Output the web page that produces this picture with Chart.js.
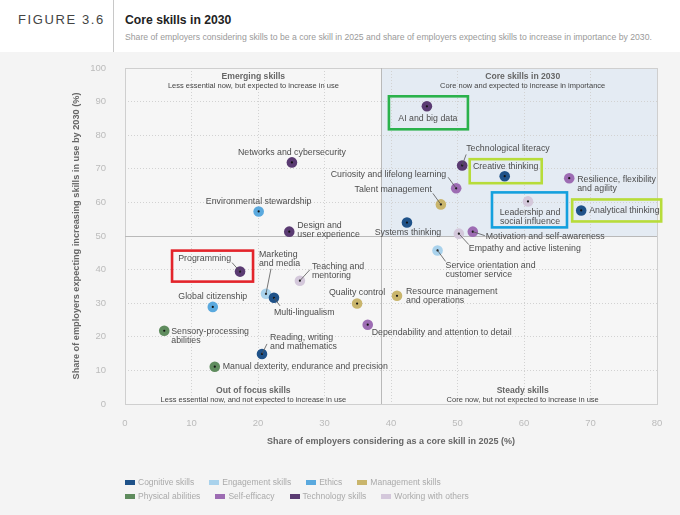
<!DOCTYPE html>
<html><head><meta charset="utf-8">
<script src="https://cdn.jsdelivr.net/npm/chart.js@4.4.0/dist/chart.umd.min.js"></script>
<style>
html,body{margin:0;padding:0;}
body{width:680px;height:515px;background:#f4f4f4;position:relative;overflow:hidden;font-family:"Liberation Sans",Arial,sans-serif;}
#hdr{position:absolute;left:0;top:0;width:680px;height:52px;background:#fff;}
#fig{position:absolute;left:18px;top:12px;font-size:13px;line-height:16px;letter-spacing:1.6px;color:#444;}
#vline{position:absolute;left:113px;top:0;width:1px;height:52px;background:#c8c8c8;}
#title{position:absolute;left:125px;top:12px;font-size:12.2px;line-height:16px;font-weight:bold;color:#222;}
#sub{position:absolute;left:125px;top:31px;font-size:8.66px;line-height:12px;color:#9a9a9a;white-space:nowrap;}
canvas{position:absolute;left:0;top:0;}
#legend{position:absolute;left:125px;top:475px;font-size:8.5px;color:#aaa;}
.row{display:flex;height:14px;align-items:center;}
.item{display:flex;align-items:center;margin-right:15px;white-space:nowrap;}
.sw{width:10px;height:5px;margin-right:3px;}
</style>
</head><body>
<div id="hdr"></div>
<div id="fig">FIGURE 3.6</div>
<div id="vline"></div>
<div id="title">Core skills in 2030</div>
<div id="sub">Share of employers considering skills to be a core skill in 2025 and share of employers expecting skills to increase in importance by 2030.</div>
<canvas id="c" width="680" height="515"></canvas>
<div id="legend"></div>
<script>
const groups = ['Cognitive skills','Engagement skills','Ethics','Management skills','Physical abilities','Self-efficacy','Technology skills','Working with others'];
const groupColors = ['#1f5289','#a9d2ec','#5aa9de','#c9b56c','#5f8c5e','#9d6cb3','#5a3b72','#d4c8db'];
const legendRows = [[0,1,2,3],[4,5,6,7]];

const skills = [
 'AI and big data','Networks and cybersecurity','Technological literacy','Design and user experience','Programming',
 'Environmental stewardship','Global citizenship',
 'Creative thinking','Analytical thinking','Systems thinking','Multi-lingualism','Reading, writing and mathematics',
 'Curiosity and lifelong learning','Resilience, flexibility and agility','Motivation and self-awareness','Dependability and attention to detail',
 'Talent management','Quality control','Resource management and operations',
 'Leadership and social influence','Empathy and active listening','Teaching and mentoring',
 'Service orientation and customer service','Marketing and media',
 'Sensory-processing abilities','Manual dexterity, endurance and precision'
];
const coreShare2025 = [45.4,25.1,50.7,24.7,17.3, 20.1,13.2, 57.1,68.6,42.4,22.4,20.6, 49.8,66.8,52.3,36.5, 47.5,34.9,40.9, 60.6,50.2,26.3, 47.0,21.2, 5.9,13.5];
const increaseShare2030 = [88.6,71.9,71.0,51.3,39.4, 57.3,28.9, 67.8,57.6,54.0,31.6,14.9, 64.2,67.2,51.3,23.6, 59.4,29.9,32.2, 60.3,50.7,36.7, 45.7,32.8, 21.8,11.1];
const skillGroup = ['Technology skills','Technology skills','Technology skills','Technology skills','Technology skills',
 'Ethics','Ethics',
 'Cognitive skills','Cognitive skills','Cognitive skills','Cognitive skills','Cognitive skills',
 'Self-efficacy','Self-efficacy','Self-efficacy','Self-efficacy',
 'Management skills','Management skills','Management skills',
 'Working with others','Working with others','Working with others',
 'Engagement skills','Engagement skills',
 'Physical abilities','Physical abilities'];
const coreDividerX = 38.5;
const increaseDividerY = 50;
const xTickStep = 10, yTickStep = 10;

const quadrants = [
 {title:'Emerging skills', sub:'Less essential now, but expected to increase in use', x:19.3, top:true},
 {title:'Core skills in 2030', sub:'Core now and expected to increase in importance', x:59.8, top:true},
 {title:'Out of focus skills', sub:'Less essential now, and not expected to increase in use', x:19.3, top:false},
 {title:'Steady skills', sub:'Core now, but not expected to increase in use', x:59.8, top:false}
];

// label layout: [lines, align, dx, dy, leaderEnd]
const labelLayout = {
 'AI and big data':[['AI and big data'],'center',1,12],
 'Networks and cybersecurity':[['Networks and cybersecurity'],'center',0,-10],
 'Technological literacy':[['Technological literacy'],'left',4,-17,[4,-11]],
 'Design and user experience':[['Design and','user experience'],'left',8,-6],
 'Programming':[['Programming'],'right',-9,-13,[-8,-9]],
 'Environmental stewardship':[['Environmental stewardship'],'center',0,-10],
 'Global citizenship':[['Global citizenship'],'center',0,-10],
 'Creative thinking':[['Creative thinking'],'center',1,-10],
 'Analytical thinking':[['Analytical thinking'],'left',8,0],
 'Systems thinking':[['Systems thinking'],'center',1,10],
 'Multi-lingualism':[['Multi-lingualism'],'left',0,15,[6,8]],
 'Reading, writing and mathematics':[['Reading, writing','and mathematics'],'left',8,-16,[5,-10]],
 'Curiosity and lifelong learning':[['Curiosity and lifelong learning'],'right',-10,-14,[-8,-11]],
 'Resilience, flexibility and agility':[['Resilience, flexibility','and agility'],'left',8,1],
 'Motivation and self-awareness':[['Motivation and self-awareness'],'left',13,5,[12,4]],
 'Dependability and attention to detail':[['Dependability and attention to detail'],'left',4,8],
 'Talent management':[['Talent management'],'right',-9,-15,[-8,-11]],
 'Quality control':[['Quality control'],'center',0,-11],
 'Resource management and operations':[['Resource management','and operations'],'left',9,-4],
 'Leadership and social influence':[['Leadership and','social influence'],'center',2,11],
 'Empathy and active listening':[['Empathy and active listening'],'left',10,15,[10,11]],
 'Teaching and mentoring':[['Teaching and','mentoring'],'left',12,-14,[10,-11]],
 'Service orientation and customer service':[['Service orientation and','customer service'],'left',8,15,[8,11]],
 'Marketing and media':[['Marketing','and media'],'left',-7,-39,[5,-25]],
 'Sensory-processing abilities':[['Sensory-processing','abilities'],'left',7,1],
 'Manual dexterity, endurance and precision':[['Manual dexterity, endurance and precision'],'left',8,0]
};
// highlight boxes around skills: [skill, color, dx0, dy0, dx1, dy1]
const highlights = [
 ['AI and big data','#2bb24c',-38,-10,41,23],
 ['Programming','#e3242b',-68,-21,13,10],
 ['Creative thinking','#b7dc3a',-35,-17,37,7],
 ['Leadership and social influence','#14a0de',-36,-9,39,26],
 ['Analytical thinking','#b7dc3a',-9,-11,80,11]
];

const FONT = '"Liberation Sans", Arial, sans-serif';
Chart.defaults.font.family = FONT;

const datasets = groups.map((g,gi)=>({
 label:g,
 data: skills.map((s,i)=>({x:coreShare2025[i], y:increaseShare2030[i], name:s, g:skillGroup[i]})).filter(p=>p.g===g),
 backgroundColor: groupColors[gi],
 borderWidth:0,
 pointRadius:5.3,
 pointHoverRadius:5.3
}));

// legend
const lg = document.getElementById('legend');
legendRows.forEach(r=>{
 const row=document.createElement('div'); row.className='row';
 r.forEach(gi=>{
  const it=document.createElement('div'); it.className='item';
  const sw=document.createElement('span'); sw.className='sw'; sw.style.background=groupColors[gi];
  const t=document.createElement('span'); t.textContent=groups[gi];
  it.appendChild(sw); it.appendChild(t); row.appendChild(it);
 });
 lg.appendChild(row);
});

const annot = {
 id:'annot',
 beforeDraw(chart){
  const {ctx, chartArea:a, scales:{x,y}} = chart;
  const xd = x.getPixelForValue(coreDividerX), yd = y.getPixelForValue(increaseDividerY);
  ctx.save();
  ctx.fillStyle='#f6f6f6';
  ctx.fillRect(a.left,a.top,a.right-a.left,a.bottom-a.top);
  ctx.fillStyle='#e4ebf3';
  ctx.fillRect(xd,a.top,a.right-xd,yd-a.top);
  ctx.restore();
 },
 beforeDatasetsDraw(chart){
  const {ctx, chartArea:a, scales:{x,y}} = chart;
  const xd = Math.round(x.getPixelForValue(coreDividerX))+0.5, yd = Math.round(y.getPixelForValue(increaseDividerY))+0.5;
  ctx.save();
  ctx.strokeStyle='#cfcfcf'; ctx.lineWidth=1;
  ctx.strokeRect(Math.round(a.left)+0.5,Math.round(a.top)+0.5,Math.round(a.right-a.left),Math.round(a.bottom-a.top));
  ctx.strokeStyle='#b9b9b9';
  ctx.beginPath(); ctx.moveTo(xd,a.top); ctx.lineTo(xd,a.bottom); ctx.stroke();
  ctx.beginPath(); ctx.moveTo(a.left,yd); ctx.lineTo(a.right,yd); ctx.stroke();
  ctx.textAlign='center'; ctx.textBaseline='middle';
  quadrants.forEach(q=>{
   const cx = x.getPixelForValue(q.x);
   const ty = q.top ? a.top+9 : a.bottom-13;
   ctx.fillStyle='#666'; ctx.font='bold 8.6px '+FONT; ctx.fillText(q.title,cx,ty);
   ctx.fillStyle='#444'; ctx.font='7.5px '+FONT; ctx.fillText(q.sub,cx,ty+9);
  });
  ctx.restore();
 },
 afterDatasetsDraw(chart){
  const {ctx, scales:{x,y}} = chart;
  ctx.save();
  const pos = {};
  skills.forEach((s,i)=>{ pos[s]=[x.getPixelForValue(coreShare2025[i]), y.getPixelForValue(increaseShare2030[i])]; });
  ctx.fillStyle='#111';
  skills.forEach(s=>{ ctx.beginPath(); ctx.arc(pos[s][0],pos[s][1],1.1,0,Math.PI*2); ctx.fill(); });
  ctx.font='8.8px '+FONT; ctx.textBaseline='middle';
  skills.forEach(s=>{
   const L = labelLayout[s]; if(!L) return;
   const [px,py]=pos[s];
   if(L[4]){
    ctx.strokeStyle='#555'; ctx.lineWidth=0.8;
    ctx.beginPath(); ctx.moveTo(px,py); ctx.lineTo(px+L[4][0],py+L[4][1]); ctx.stroke();
   }
   ctx.fillStyle='#4d4d4d'; ctx.textAlign=L[1];
   L[0].forEach((t,k)=>ctx.fillText(t,px+L[2],py+L[3]+k*9));
  });
  ctx.lineWidth=2.6;
  highlights.forEach(h=>{
   const [px,py]=pos[h[0]];
   ctx.strokeStyle=h[1];
   ctx.strokeRect(px+h[2],py+h[3],h[4]-h[2],h[5]-h[3]);
  });
  ctx.restore();
 }
};

new Chart(document.getElementById('c'),{
 type:'scatter',
 data:{datasets},
 options:{
  responsive:false, animation:false, events:[],
  layout:{padding:{left:0,right:23,top:68,bottom:0}},
  plugins:{legend:{display:false},tooltip:{enabled:false}},
  scales:{
   x:{type:'linear',min:0,max:80,
    ticks:{stepSize:xTickStep,color:'#bbb',font:{size:9.5},padding:14},
    grid:{color:'#d2d2d2',drawTicks:false,lineWidth:1},
    border:{display:false,dash:[1,2]},
    title:{display:true,text:'Share of employers considering as a core skill in 2025 (%)',color:'#666',font:{size:9,weight:'bold'},padding:{top:0,bottom:68}},
    afterFit(s){s.height=111;}
   },
   y:{type:'linear',min:0,max:100,
    ticks:{stepSize:yTickStep,color:'#bbb',font:{size:9.5},padding:19},
    grid:{color:'#d2d2d2',drawTicks:false,lineWidth:1},
    border:{display:false,dash:[1,2]},
    title:{display:true,text:'Share of employers expecting increasing skills in use by 2030 (%)',color:'#666',font:{size:9.2,weight:'bold'},padding:{top:71,bottom:0}},
    afterFit(s){s.width=125;}
   }
  }
 },
 plugins:[annot]
});
</script>
</body></html>
